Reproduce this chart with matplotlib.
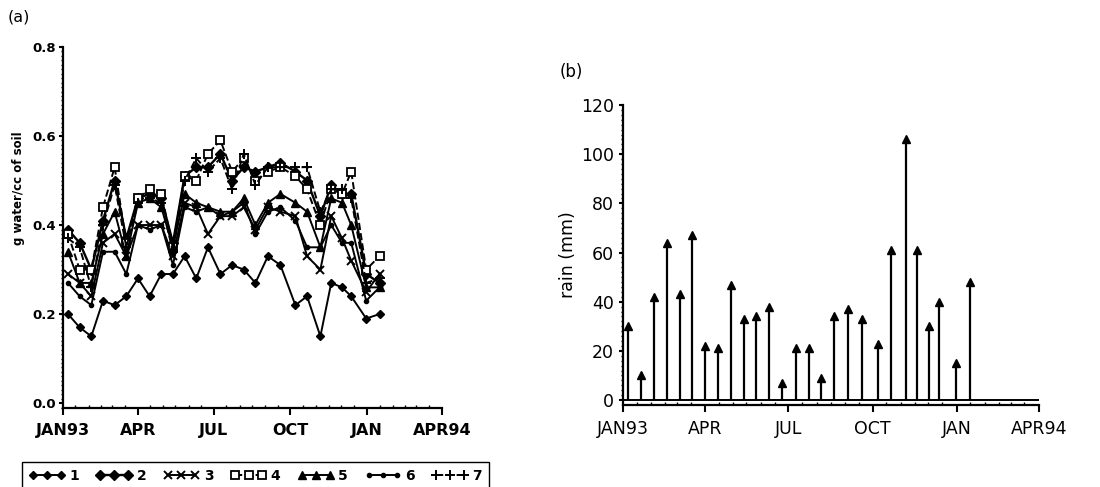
import numpy as np
import matplotlib
matplotlib.use("Agg")
import matplotlib.pyplot as plt
import matplotlib.dates as mdates
from matplotlib.lines import Line2D

# ---------------- data ----------------
dates = ['1993-01-07', '1993-01-21', '1993-02-04', '1993-02-18', '1993-03-04',
         '1993-03-18', '1993-04-01', '1993-04-15', '1993-04-29', '1993-05-13',
         '1993-05-27', '1993-06-10', '1993-06-24', '1993-07-09', '1993-07-23',
         '1993-08-06', '1993-08-20', '1993-09-04', '1993-09-19', '1993-10-07',
         '1993-10-21', '1993-11-06', '1993-11-19', '1993-12-02', '1993-12-13',
         '1993-12-31', '1994-01-16']

soil_1 = [0.20, 0.17, 0.15, 0.23, 0.22, 0.24, 0.28, 0.24, 0.29, 0.29, 0.33, 0.28, 0.35,
          0.29, 0.31, 0.30, 0.27, 0.33, 0.31, 0.22, 0.24, 0.15, 0.27, 0.26, 0.24, 0.19, 0.20]
soil_2 = [0.39, 0.36, 0.30, 0.41, 0.50, 0.37, 0.46, 0.47, 0.46, 0.36, 0.51, 0.53, 0.53,
          0.56, 0.50, 0.53, 0.52, 0.53, 0.54, 0.52, 0.50, 0.42, 0.49, 0.47, 0.47, 0.29, 0.27]
soil_3 = [0.29, 0.27, 0.24, 0.36, 0.38, 0.33, 0.40, 0.40, 0.40, 0.33, 0.45, 0.44, 0.38,
          0.42, 0.42, 0.44, 0.39, 0.44, 0.43, 0.42, 0.33, 0.30, 0.42, 0.37, 0.32, 0.25, 0.29]
soil_4 = [0.38, 0.30, 0.30, 0.44, 0.53, 0.36, 0.46, 0.48, 0.47, 0.35, 0.51, 0.50, 0.56,
          0.59, 0.52, 0.55, 0.50, 0.52, 0.53, 0.51, 0.48, 0.40, 0.48, 0.47, 0.52, 0.30, 0.33]
soil_5 = [0.34, 0.27, 0.27, 0.38, 0.43, 0.33, 0.45, 0.46, 0.44, 0.35, 0.47, 0.45, 0.44,
          0.43, 0.43, 0.46, 0.40, 0.45, 0.47, 0.45, 0.43, 0.35, 0.46, 0.45, 0.40, 0.26, 0.26]
soil_6 = [0.27, 0.24, 0.22, 0.34, 0.34, 0.29, 0.40, 0.39, 0.40, 0.31, 0.44, 0.43, 0.44,
          0.42, 0.43, 0.45, 0.38, 0.43, 0.44, 0.41, 0.35, 0.35, 0.40, 0.36, 0.36, 0.23, 0.26]
soil_7 = [0.37, 0.35, 0.26, 0.40, 0.49, 0.35, 0.45, 0.46, 0.45, 0.34, 0.50, 0.55, 0.52,
          0.55, 0.48, 0.56, 0.49, 0.53, 0.53, 0.53, 0.53, 0.43, 0.48, 0.48, 0.46, 0.27, 0.28]

rain = [30, 10, 42, 64, 43, 67, 22, 21, 47, 33, 34, 38, 7, 21, 21, 9, 34, 37, 33, 23,
        61, 106, 61, 30, 40, 15, 48]

series_labels = ['1', '2', '3', '4', '5', '6', '7']
quarter_ticks = ['1993-01-01', '1993-04-01', '1993-07-01', '1993-10-01', '1994-01-01', '1994-04-01']
quarter_labels = ['JAN93', 'APR', 'JUL', 'OCT', 'JAN', 'APR94']

# ---------------- figure ----------------
t = np.array(dates, dtype='datetime64[D]')
qt = np.array(quarter_ticks, dtype='datetime64[D]')

fig = plt.figure(figsize=(11, 4.87), dpi=100)
fig.patch.set_facecolor('white')

styles = [
    dict(marker='D', ms=4, mfc='black', ls='-', lw=1.4),
    dict(marker='D', ms=5, mfc='black', ls='-', lw=1.7),
    dict(marker='x', ms=6, mew=1.4, ls='-', lw=1.4),
    dict(marker='s', ms=6, mfc='white', mew=1.3, ls='--', lw=1.4),
    dict(marker='^', ms=6, mfc='black', ls='-', lw=1.4),
    dict(marker='o', ms=3, mfc='black', ls='-', lw=1.4),
    dict(marker='+', ms=7, mew=1.4, ls='--', lw=1.4),
]
soils = [soil_1, soil_2, soil_3, soil_4, soil_5, soil_6, soil_7]

def style_axis(ax, fs, bold):
    ax.spines['top'].set_visible(False)
    ax.spines['right'].set_visible(False)
    ax.spines['left'].set_linewidth(1.6)
    ax.spines['bottom'].set_linewidth(1.6)
    ax.set_xlim(qt[0], qt[-1])
    ax.set_xticks(qt)
    ax.set_xticklabels(quarter_labels, fontsize=fs, fontweight='bold' if bold else 'normal')
    ax.xaxis.set_minor_locator(mdates.DayLocator(bymonthday=[1, 16]))
    ax.tick_params(axis='x', which='major', direction='out', length=5, width=1.5, pad=6)
    ax.tick_params(axis='x', which='minor', direction='in', length=2.5, width=1)
    ax.tick_params(axis='y', which='major', direction='out', length=3, width=1.5)
    ax.tick_params(axis='y', which='minor', direction='out', length=1.8, width=1)

# panel (a)
axa = fig.add_axes([63/1100, (487-408)/487, 379/1100, 361/487])
for vals, st, lab in zip(soils, styles, series_labels):
    axa.plot(t, vals, color='black', mec='black', label=lab, **st)
axa.set_ylim(-0.011, 0.8)
axa.set_yticks([0.0, 0.2, 0.4, 0.6, 0.8])
axa.set_yticklabels(['0.0', '0.2', '0.4', '0.6', '0.8'], fontsize=9.5, fontweight='bold')
axa.yaxis.set_minor_locator(matplotlib.ticker.MultipleLocator(0.01))
style_axis(axa, 11.5, True)
axa.tick_params(axis='y', which='major', pad=2)
axa.set_ylabel('g water/cc of soil', fontsize=8.5, fontweight='bold')
axa.yaxis.set_label_coords(-0.1, 0.61)
fig.text(8/1100, 1 - 17/487, '(a)', fontsize=11.5, va='center', ha='left')

handles = [Line2D([0], [0], color='black', mec='black', **st) for st in styles]
fig.legend(handles, series_labels, loc='upper left', ncol=7, mode='expand',
           bbox_to_anchor=(22/1100, -0.2, 467/1100, 0.2 + 25/487), borderaxespad=0,
           numpoints=3, handlelength=2.6, handletextpad=0.3, columnspacing=0.8,
           fancybox=False, edgecolor='black', framealpha=1,
           prop={'size': 10, 'weight': 'bold'}, borderpad=0.5)

# panel (b)
axb = fig.add_axes([623/1100, (487-404.5)/487, 416/1100, 299.5/487])
axb.vlines(t, 0, rain, color='black', lw=1.6)
axb.plot(t, rain, ls='none', marker='^', ms=6, color='black')
axb.axhline(0, color='black', lw=1.4)
axb.set_ylim(-1.8, 120)
axb.set_yticks([0, 20, 40, 60, 80, 100, 120])
axb.set_yticklabels(['0', '20', '40', '60', '80', '100', '120'], fontsize=12.5)
axb.yaxis.set_minor_locator(matplotlib.ticker.MultipleLocator(2))
style_axis(axb, 12.5, False)
axb.set_ylabel('rain (mm)', fontsize=12.5)
axb.yaxis.set_label_coords(-0.11, 0.5)
fig.text(560/1100, 1 - 72/487, '(b)', fontsize=12, va='center', ha='left')

fig.savefig('out.png', dpi=100, facecolor='white')
